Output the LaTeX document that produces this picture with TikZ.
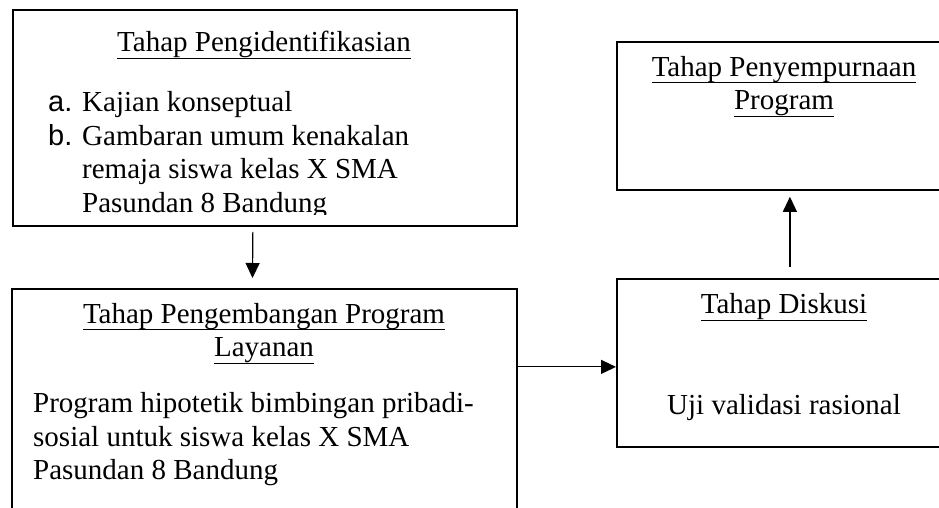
\documentclass[tikz,border=0pt]{standalone}
\usepackage{fontspec}
\setmainfont{Liberation Serif}
\newfontfamily\arialfont{Liberation Sans}
\usetikzlibrary{arrows.meta, calc, positioning}

% underline set a little below the baseline, as in the original
\newsavebox{\garisbox}
\newcommand{\garis}[1]{\sbox{\garisbox}{#1}\rlap{\rule[-7pt]{\wd\garisbox}{1.3pt}}\usebox{\garisbox}}

\begin{document}
\begin{tikzpicture}[x=1pt, y=1pt,
    box/.style={draw, line width=1.8pt, inner sep=0pt, anchor=north west},
    txt/.style={inner sep=0pt, anchor=base, font=\fontsize{29}{33.5}\selectfont},
    arr/.style={line width=1.2pt, -{Triangle[length=15pt, width=14pt]}}]
    \useasboundingbox (0,0) rectangle (939,508);
    \clip (0,0) rectangle (939,508);

    % Boxes (the lower and right ones run past the page edge)
    \node[box, minimum width=504pt, minimum height=216pt] (ident) at (12,499) {};
    \node[box, minimum width=505pt, minimum height=260pt] (kembang) at (11,220) {};
    \node[box, minimum width=336pt, minimum height=168pt] (diskusi) at (616,230) {};
    \node[box, minimum width=336pt, minimum height=148pt] (sempurna) at (616,467) {};

    % Tahap pengidentifikasian (multi-line nodes sit on their last line)
    \node[txt] (identJudul) at (264,456) {\garis{Tahap Pengidentifikasian}};
    \begin{scope}
        \clip (12,293) rectangle (516,499);
        \node[txt, anchor=base west] (identA) at (48,396) {\arialfont a.};
        \node[txt, anchor=base west] (identIsiA) at (82,396) {Kajian konseptual};
        \node[txt, anchor=base west] (identB) at (48,362.5) {\arialfont b.};
        \node[txt, anchor=base west, align=left] (identIsiB) at (82,295.5)
            {Gambaran umum kenakalan\\remaja siswa kelas X SMA\\Pasundan 8 Bandung};
    \end{scope}

    % Tahap pengembangan
    \node[txt, align=center] (kembangJudul) at (264,151)
        {\garis{Tahap Pengembangan Program}\\\garis{Layanan}};
    \node[txt, anchor=base west, align=left] (kembangIsi) at (33,28)
        {Program hipotetik bimbingan pribadi-\\sosial untuk siswa kelas X SMA\\Pasundan 8 Bandung};

    % Tahap diskusi
    \node[txt] (diskusiJudul) at (784,194) {\garis{Tahap Diskusi}};
    \node[txt] (diskusiIsi) at (784,93) {Uji validasi rasional};

    % Tahap penyempurnaan
    \node[txt, align=center] (sempurnaJudul) at (784,398)
        {\garis{Tahap Penyempurnaan}\\\garis{Program}};

    % Arrows
    \coordinate (masukDiskusi) at ($(diskusi.west)+(0,-4)$);
    \draw[arr, shorten <=5pt, shorten >=10pt] ([xshift=-12pt]ident.south) -- ([xshift=-12pt]kembang.north);
    \draw[arr] (kembang.east |- masukDiskusi) -- (masukDiskusi);
    \draw[arr, shorten <=11pt, shorten >=6pt] ([xshift=5pt]diskusi.north) -- ([xshift=5pt]sempurna.south);
\end{tikzpicture}
\end{document}
